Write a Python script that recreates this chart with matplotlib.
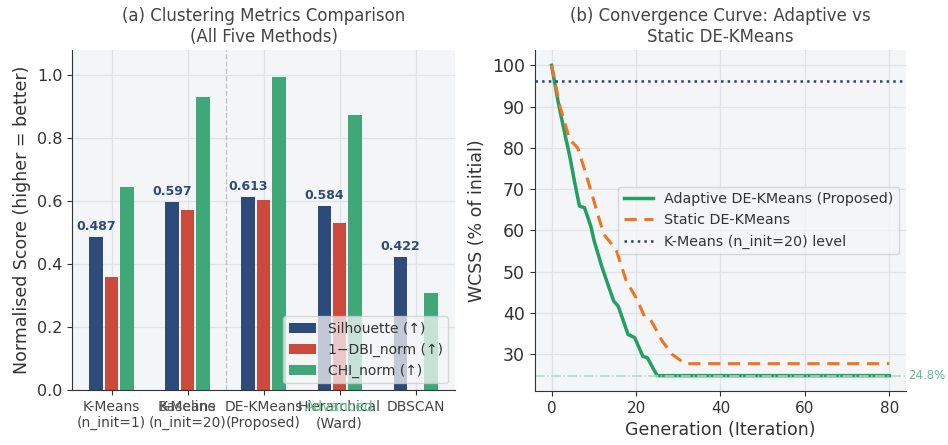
import matplotlib
matplotlib.use("Agg")
import matplotlib.pyplot as plt
import numpy as np

# ---- data ----
methods = ["K-Means\n(n_init=1)", "K-Means\n(n_init=20)", "DE-KMeans\n(Proposed)",
           "Hierarchical\n(Ward)", "DBSCAN"]
silhouette = [0.487, 0.597, 0.613, 0.584, 0.422]
dbi_norm = [0.36, 0.573, 0.605, 0.53, 0.0]
chi_norm = [0.645, 0.93, 0.995, 0.873, 0.31]

gen_adaptive = [0, 1.6, 3.1, 4.3, 5.5, 6.6, 7.8, 9.3, 10.1, 12.0, 14.7, 15.8,
                18.1, 19.7, 21.6, 22.7, 25, 80]
wcss_adaptive = [100, 90.9, 83.6, 78.0, 71.5, 65.9, 65.5, 61.0, 57.4, 50.9, 42.9,
                 41.6, 34.8, 34.0, 29.5, 29.1, 24.8, 24.8]
gen_static = [0, 2.0, 4.3, 6.2, 7.8, 9.7, 11.2, 12.4, 14.3, 15.4, 17.7, 20.0,
              22.0, 23.4, 24.3, 26.2, 28.5, 31.6, 80]
wcss_static = [100, 90.0, 82.0, 80.0, 74.8, 68.3, 63.0, 59.0, 56.6, 55.0, 47.7,
               43.7, 39.2, 38.4, 36.8, 33.2, 30.0, 27.7, 27.7]
gen_ticks = [0, 20, 40, 60, 80]
kmeans20_level = 96.2
adaptive_final = 24.8

BLUE, RED, GREEN = "#2d4b7a", "#cc4a3c", "#40a878"
LINE_GREEN, ORANGE, NAVY = "#22a062", "#ef7521", "#2b3f7a"
AX_BG, GRID, INK = "#f4f5f7", "#dfe2e7", "#333333"

plt.rcParams.update({
    "font.size": 11, "axes.facecolor": AX_BG, "axes.edgecolor": INK,
    "axes.grid": True, "grid.color": GRID, "grid.linewidth": 0.9,
    "axes.spines.top": False, "axes.spines.right": False,
    "axes.labelcolor": INK, "text.color": INK, "axes.labelsize": 12.5,
    "xtick.color": INK, "ytick.color": INK, "axes.titlecolor": "#444444",
    "xtick.labelsize": 11, "ytick.labelsize": 11.5,
    "axes.axisbelow": True,
})

fig = plt.figure(figsize=(9.48, 4.45), dpi=100)
ax1 = fig.add_axes([0.076, 0.123, 0.404, 0.765])
ax2 = fig.add_axes([0.564, 0.121, 0.392, 0.767])

# ---- (a) bars ----
x = np.arange(len(methods))
w = 0.2
ax1.bar(x - w, silhouette, w * 0.9, color=BLUE, label="Silhouette (↑)")
ax1.bar(x, dbi_norm, w * 0.9, color=RED, label="1−DBI_norm (↑)")
ax1.bar(x + w, chi_norm, w * 0.9, color=GREEN, label="CHI_norm (↑)")
for xi, v in zip(x, silhouette):
    ax1.text(xi - w, v + 0.012, f"{v:.3f}", ha="center", va="bottom",
             fontsize=9, fontweight="bold", color=BLUE)
ax1.axvline(1.5, color="#c0c3c8", ls="--", lw=1)
ax1.set_xticks(x, methods, fontsize=10, color="#444444")
ax1.set_ylim(0, 1.08)
ax1.set_ylabel("Normalised Score (higher = better)")
ax1.set_title("(a) Clustering Metrics Comparison\n(All Five Methods)", fontsize=12)
# group tags sit on top of the first tick-label line, as in the source figure
ax1.text(1, -0.028, "Baseline", transform=ax1.get_xaxis_transform(), ha="center",
         va="top", fontsize=10, color="#555555")
ax1.text(3, -0.028, "Advanced", transform=ax1.get_xaxis_transform(), ha="center",
         va="top", fontsize=10, color="#5cc48e")
ax1.legend(loc="lower right", fontsize=10, framealpha=0.75)

# ---- (b) convergence ----
ax2.plot(gen_adaptive, wcss_adaptive, color=LINE_GREEN, lw=2.5,
         label="Adaptive DE-KMeans (Proposed)")
ax2.plot(gen_static, wcss_static, color=ORANGE, lw=2.2, ls=(0, (4, 2.5)),
         label="Static DE-KMeans")
ax2.axhline(kmeans20_level, color=NAVY, ls=":", lw=1.8,
            label="K-Means (n_init=20) level")
ax2.axhline(adaptive_final, color="#a9dcc1", ls="-.", lw=1.1)
ax2.text(1.005, adaptive_final, f"{adaptive_final}%",
         transform=ax2.get_yaxis_transform(), ha="left", va="center",
         fontsize=8.5, color="#5cbf8c")
ax2.set_xticks(gen_ticks)
ax2.tick_params(axis="y", labelsize=12.5)
ax2.set_xlabel("Generation (Iteration)")
ax2.set_ylabel("WCSS (% of initial)")
ax2.set_title("(b) Convergence Curve: Adaptive vs\nStatic DE-KMeans", fontsize=12)
ax2.legend(loc="center right", fontsize=10.3, framealpha=0.75)

fig.savefig("out.png", dpi=100)
